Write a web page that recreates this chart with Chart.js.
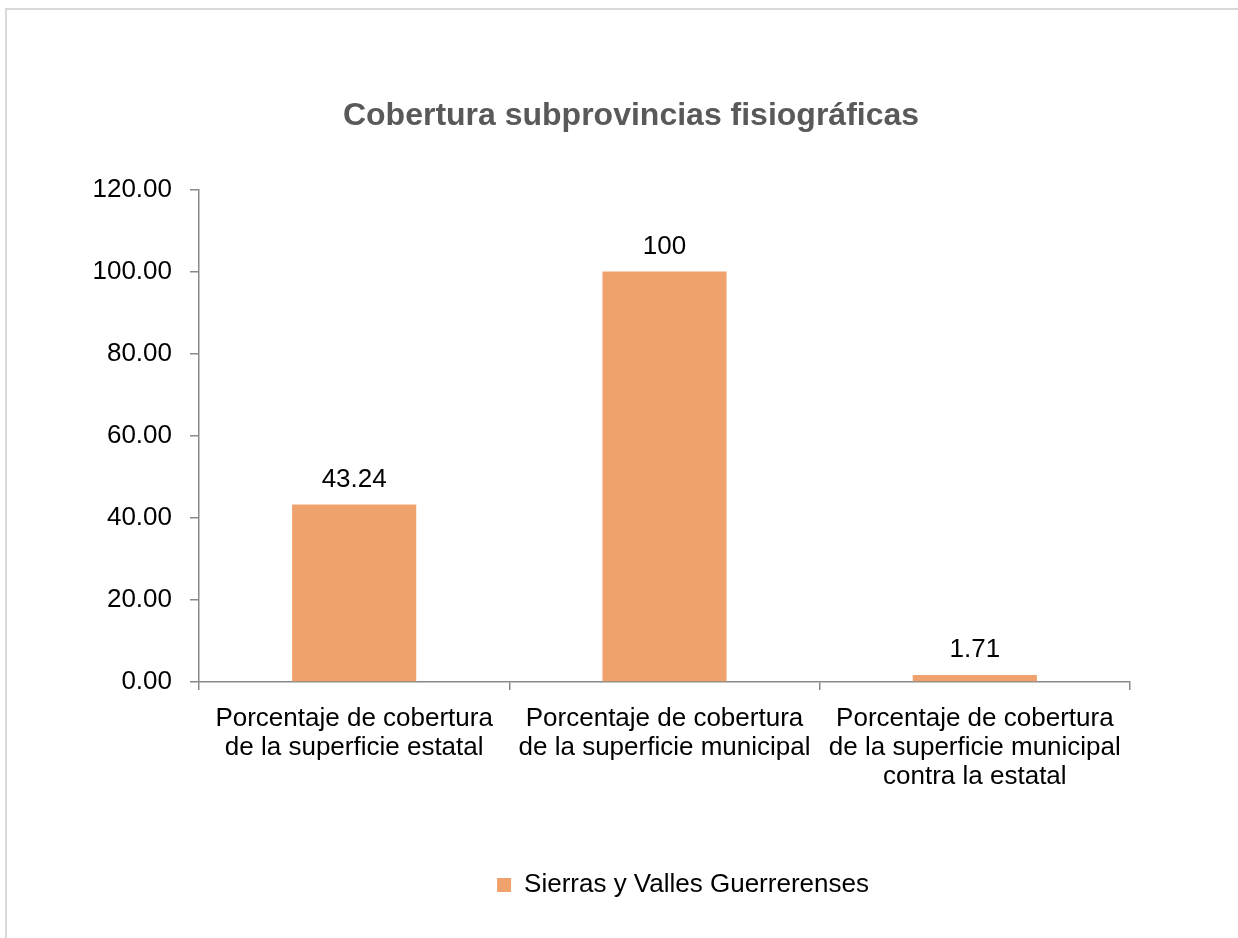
<!DOCTYPE html>
<html>
<head>
<meta charset="utf-8">
<script src="https://cdn.jsdelivr.net/npm/chart.js@4/dist/chart.umd.min.js"></script>
<style>
  html, body { margin: 0; padding: 0; background: #fff; overflow: hidden; }
  .frame {
    position: absolute; left: 5px; top: 8px;
    width: 1400px; height: 1100px;
    border: 2px solid #d9d9d9;
  }
  #chart { position: absolute; left: 0; top: 0; }
</style>
</head>
<body>
<div class="frame"></div>
<canvas id="chart" width="1238" height="938"></canvas>
<script>
const categories = [
  ['Porcentaje de cobertura', 'de la superficie estatal'],
  ['Porcentaje de cobertura', 'de la superficie municipal'],
  ['Porcentaje de cobertura', 'de la superficie municipal', 'contra la estatal']
];
const seriesName = 'Sierras y Valles Guerrerenses';
const values = [43.24, 100, 1.71];
const yMin = 0;
const yMax = 120;
const yStep = 20;

const FONT = '"Liberation Sans", Arial, sans-serif';
const AXIS = '#898989';

// value labels above each bar
const barLabels = {
  id: 'barLabels',
  afterDatasetsDraw(chart) {
    const ctx = chart.ctx;
    const meta = chart.getDatasetMeta(0);
    ctx.save();
    ctx.font = '26px ' + FONT;
    ctx.fillStyle = '#000';
    ctx.textAlign = 'center';
    ctx.textBaseline = 'middle';
    meta.data.forEach((bar, i) => {
      ctx.fillText(String(values[i]), bar.x, bar.y - 25);
    });
    ctx.restore();
  }
};

// title and legend sit off-centre in the original, nudge them right
const nudge = {
  id: 'nudge',
  afterLayout(chart) {
    const shift = (box, dx) => { if (box) { box.left += dx; box.right += dx; } };
    shift(chart.titleBlock, 66);
    shift(chart.legend, 118);
  }
};

new Chart(document.getElementById('chart'), {
  type: 'bar',
  data: {
    labels: categories,
    datasets: [{
      label: seriesName,
      data: values,
      backgroundColor: '#f0a26c',
      borderWidth: 0,
      categoryPercentage: 1,
      barPercentage: 0.4
    }]
  },
  options: {
    responsive: false,
    animation: false,
    devicePixelRatio: 1,
    layout: { padding: { top: 0, right: 108, bottom: 30, left: 0 } },
    plugins: {
      title: {
        display: true,
        text: 'Cobertura subprovincias fisiográficas',
        color: '#595959',
        font: { family: FONT, size: 32, weight: 'bold', lineHeight: 1.2 },
        padding: { top: 97, bottom: 54 }
      },
      legend: {
        position: 'bottom',
        labels: {
          color: '#000',
          font: { family: FONT, size: 26 },
          boxWidth: 14,
          boxHeight: 14,
          padding: 10
        }
      },
      tooltip: { enabled: false }
    },
    scales: {
      x: {
        grid: { drawOnChartArea: false, drawTicks: true, tickLength: 8, color: AXIS, lineWidth: 1.5 },
        border: { display: true, color: AXIS, width: 1.5 },
        ticks: {
          color: '#000',
          font: { family: FONT, size: 26, lineHeight: 1.1 },
          padding: 15,
          maxRotation: 0,
          autoSkip: false
        },
        afterFit(scale) { scale.height = 180; }
      },
      y: {
        min: yMin,
        max: yMax,
        grid: { drawOnChartArea: false, drawTicks: true, tickLength: 9, color: AXIS, lineWidth: 1.5 },
        border: { display: true, color: AXIS, width: 1.5 },
        ticks: {
          stepSize: yStep,
          color: '#000',
          font: { family: FONT, size: 26 },
          padding: 18,
          callback: v => Number(v).toFixed(2)
        },
        afterFit(scale) { scale.width = 199; }
      }
    }
  },
  plugins: [barLabels, nudge]
});
</script>
</body>
</html>
